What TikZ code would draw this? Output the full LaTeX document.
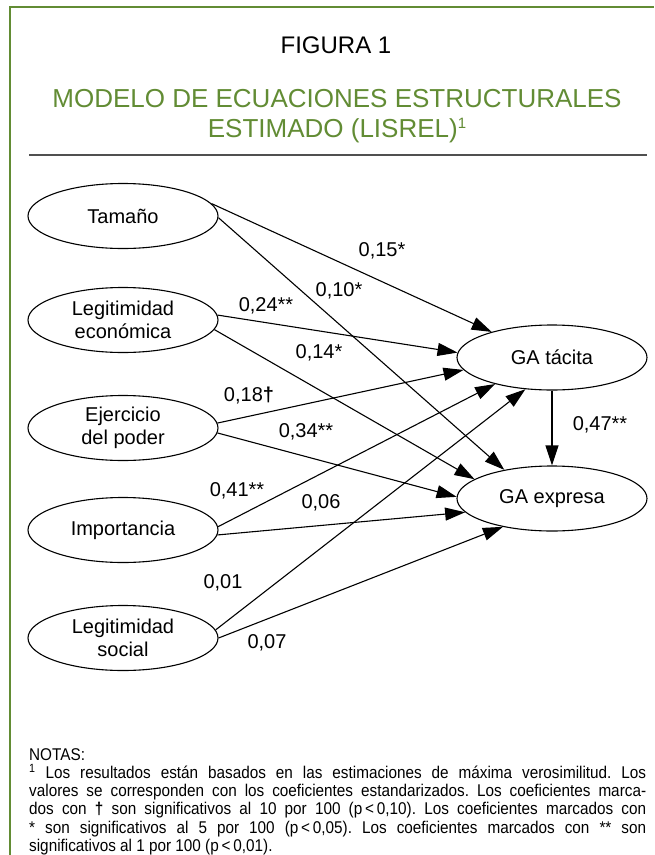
\documentclass[tikz,border=0pt]{standalone}
\usepackage{fontspec}
\setmainfont{Liberation Sans}
\newfontfamily\notefont[FakeStretch=0.9]{Liberation Sans}
\usetikzlibrary{arrows.meta,shapes.geometric}
\definecolor{frameGreen}{RGB}{98,140,52}
\definecolor{titleGreen}{RGB}{98,140,52}
\definecolor{ruleGray}{RGB}{80,80,80}
\begin{document}
\begin{tikzpicture}[x=1pt,y=-1pt,
  latent/.style={ellipse,draw,line width=1.1pt,minimum width=190pt,minimum height=65pt,inner sep=0pt,align=center,font=\fontsize{20}{23}\selectfont},
  effect/.style={line width=1.1pt,-{Triangle[length=20pt,width=13pt]}},
  coef/.style={font=\fontsize{20}{23}\selectfont,inner sep=0pt},
  titletext/.style={font=\fontsize{26}{30}\selectfont,text=titleGreen,inner sep=0pt,anchor=base}]
\useasboundingbox[fill=white] (0,0) rectangle (654,855);
% frame
\draw[frameGreen,line width=2pt] (10,855) -- (10,7) -- (654,7);
% titles
\node[font=\fontsize{24}{28}\selectfont,inner sep=0pt,anchor=base] (fig) at (336,53) {FIGURA 1};
\node[titletext] (t1) at (337,107) {MODELO DE ECUACIONES ESTRUCTURALES};
\node[titletext] (t2) at (337,137) {ESTIMADO (LISREL)\raisebox{9pt}{\fontsize{15}{15}\selectfont 1}};
\draw[ruleGray,line width=2.2pt] (29,155) -- (647,155);
% latent variables
\node[latent] (tam) at (123,216) {Tamaño};
\node[latent] (leg) at (123,320) {Legitimidad\\económica};
\node[latent] (eje) at (123,428) {Ejercicio\\del poder};
\node[latent] (imp) at (123,530) {Importancia};
\node[latent] (soc) at (123,638) {Legitimidad\\social};
\node[latent] (gatac) at (552,357.5) {GA tácita};
\node[latent] (gaexp) at (552,498.5) {GA expresa};
% paths
\draw[effect] (tam.8) -- (gatac.157);
\draw[effect] (tam.-1) -- (gaexp.149);
\draw[effect] (leg.3) -- (gatac.177);
\draw[effect] (leg.-6) -- (gaexp.166);
\draw[effect] (eje.3) -- (gatac.-172);
\draw[effect] (eje.-3) -- (gaexp.179);
\draw[effect] (imp.2) -- (gatac.-155);
\draw[effect] (imp.-3) -- (gaexp.-171);
\draw[effect] (soc.5) -- (gatac.-130);
\draw[effect] (soc.0) -- (gaexp.-150);
\draw[effect] (gatac.south) -- (gaexp.north);
% coefficients
\node[coef] (c15) at (382,251) {0,15*};
\node[coef] (c10) at (339,291) {0,10*};
\node[coef] (c24) at (266,306) {0,24**};
\node[coef] (c14) at (319,353) {0,14*};
\node[coef] (c18) at (249,396) {0,18{\bfseries †}};
\node[coef] (c34) at (306,432) {0,34**};
\node[coef] (c47) at (600,425) {0,47**};
\node[coef] (c41) at (237,491) {0,41**};
\node[coef] (c06) at (321,503) {0,06};
\node[coef] (c01) at (223,583) {0,01};
\node[coef] (c07) at (267,643) {0,07};
% notes
\node[anchor=north west,inner sep=0pt,text width=617pt,align=justify,
      font=\notefont\fontsize{17}{18.3}\selectfont] (notes) at (29,748)
{\hyphenpenalty=10000 \frenchspacing NOTAS:\\
\textsuperscript{1} Los resultados están basados en las estimaciones de máxima verosimilitud. Los\linebreak
valores se corresponden con los coeficientes estandarizados. Los coeficientes marca-\linebreak
dos con {\bfseries †} son significativos al 10 por 100 (p\,<\,0,10). Los coeficientes marcados con\linebreak
* son significativos al 5 por 100 (p\,<\,0,05). Los coeficientes marcados con ** son\linebreak
significativos al 1 por 100 (p\,<\,0,01).};
\end{tikzpicture}
\end{document}
